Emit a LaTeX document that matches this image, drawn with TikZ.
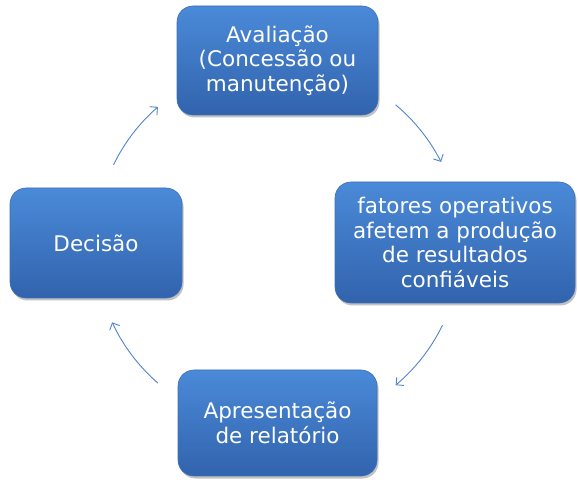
\documentclass[tikz,border=0pt]{standalone}
\usepackage{fontspec}
\setmainfont{DejaVu Sans}
\usetikzlibrary{arrows.meta,shadows,calc}
\definecolor{boxtop}{HTML}{4A8AD8}
\definecolor{boxbot}{HTML}{3263AD}
\definecolor{boxedge}{HTML}{3C70B8}
\definecolor{arrcol}{HTML}{4F84CC}
\tikzset{
  cyclebox/.style={rounded corners=16pt, top color=boxtop, bottom color=boxbot,
    draw=boxedge, line width=0.6pt, text=white, align=center, inner sep=0pt,
    font=\fontsize{21.5}{24.5}\selectfont,
    drop shadow={shadow xshift=1.5pt, shadow yshift=-2.5pt, opacity=0.4, fill=black!60}},
  cyclearr/.style={draw=arrcol, line width=0.9pt, -{Straight Barb[length=5.5pt,width=11pt]}}
}
\begin{document}
\begin{tikzpicture}[x=1pt,y=1pt]
\useasboundingbox (0,0) rectangle (578,479);
\node[cyclebox, minimum width=201pt, minimum height=109pt] (top) at (277.5,418.5) {Avaliação\\(Concessão ou\\manutenção)};
\node[cyclebox, minimum width=240pt, minimum height=121pt] (right) at (455,236.5) {fatores operativos\\afetem a produção\\de resultados\\confiáveis};
\node[cyclebox, minimum width=199pt, minimum height=106pt] (bottom) at (277.5,56) {Apresentação\\de relatório};
\node[cyclebox, minimum width=172pt, minimum height=110pt] (left) at (96,236) {Decisão};
\coordinate (c) at (278,234);
\draw[cyclearr] ($(c)+(154:183)$) arc[start angle=154, end angle=131, radius=183];
\draw[cyclearr] ($(c)+(50:183)$) arc[start angle=50, end angle=27, radius=183];
\draw[cyclearr] ($(c)+(-26:183)$) arc[start angle=-26, end angle=-50, radius=183];
\draw[cyclearr] ($(c)+(229:183)$) arc[start angle=229, end angle=205, radius=183];
\end{tikzpicture}
\end{document}
